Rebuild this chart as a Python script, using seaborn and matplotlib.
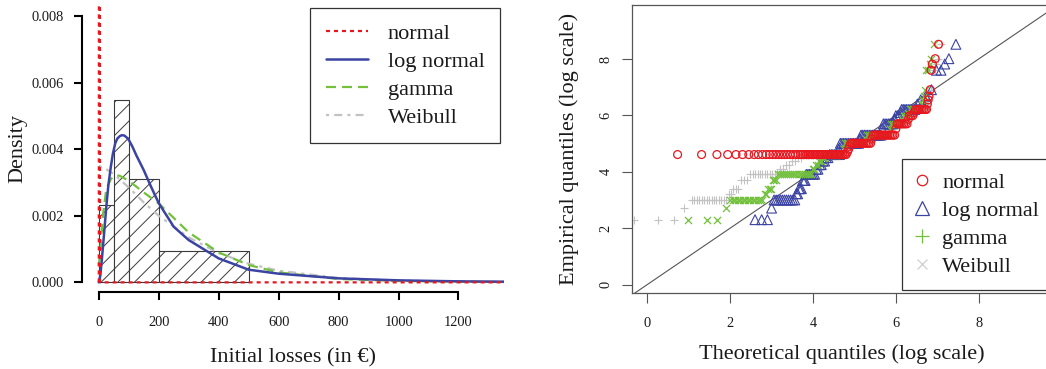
import numpy as np
import pandas as pd
import matplotlib
matplotlib.use("Agg")
import matplotlib.pyplot as plt
import seaborn as sns
from matplotlib.lines import Line2D

# ---------------- data: left panel (density) ----------------
hist_edges = [0, 50, 100, 200, 500]
hist_mid = [25, 75, 150, 350]
hist_density = [0.00232, 0.00548, 0.00310, 0.00095]

normal_x = [0, 2, 4, 1352]
normal_y = [0.0, 0.05, 0.0, 0.0]

lnorm_x = [0, 5, 10, 18, 25, 32, 40, 47, 55, 62, 70, 77, 85, 92, 100, 112, 125, 150, 175, 200,
           250, 300, 400, 500, 600, 800, 1000, 1200, 1352]
lnorm_y = [0.0, 0.00020, 0.00066, 0.00150, 0.00226, 0.00292, 0.00346, 0.00386, 0.00418, 0.00432,
           0.00439, 0.00442, 0.00441, 0.00436, 0.00428, 0.00408, 0.00382, 0.00337, 0.00286, 0.00238,
           0.00167, 0.00127, 0.00072, 0.00038, 0.00026, 0.00012, 0.00006, 0.00003, 0.00002]

gamma_x = [0, 5, 10, 15, 25, 40, 55, 70, 100, 150, 200, 300, 400, 500, 600, 800, 1000, 1200, 1352]
gamma_y = [0.00050, 0.00090, 0.00160, 0.00210, 0.00280, 0.00310, 0.00322, 0.00320, 0.00305, 0.00270,
           0.00237, 0.00150, 0.00090, 0.00052, 0.00030, 0.00010, 0.00004, 0.00002, 0.00001]

weib_x = [0, 25, 50, 100, 150, 200, 300, 400, 500, 600, 800, 1000, 1200, 1352]
weib_y = [0.00350, 0.00340, 0.00325, 0.00285, 0.00240, 0.00200, 0.00135, 0.00088, 0.00056, 0.00035,
          0.00013, 0.00005, 0.00002, 0.00001]

dens_labels = ["normal", "log normal", "gamma", "Weibull"]
x_ticks_left = [0, 200, 400, 600, 800, 1000, 1200]
y_ticks_left = [0.000, 0.002, 0.004, 0.006, 0.008]
y_tick_labels_left = ["0.000", "0.002", "0.004", "0.006", "0.008"]

# ---------------- data: right panel (Q-Q, log scale) ----------------
qq_normal_x = [0.73, 1.31, 1.68, 1.94, 2.14, 2.30, 2.45, 2.58, 2.68, 2.78, 2.87, 2.95, 3.03,
               3.10, 3.17, 3.24, 3.31, 3.38, 3.45, 3.52, 3.58, 3.64, 3.70, 3.75, 3.80,
               3.84, 3.88, 3.92, 3.96, 4.00, 4.04, 4.08, 4.12, 4.16, 4.20, 4.24, 4.28, 4.32,
               4.36, 4.40, 4.44, 4.48, 4.52, 4.56, 4.60, 4.64, 4.68, 4.72, 4.76, 4.80,
               4.83, 4.86, 4.88,
               4.91, 4.95, 4.99, 5.03, 5.07, 5.11, 5.15, 5.19, 5.23, 5.27, 5.31, 5.35, 5.39,
               5.42,
               5.45, 5.49, 5.53, 5.57, 5.61, 5.65, 5.69, 5.73, 5.77, 5.81, 5.85, 5.89, 5.93, 5.97,
               6.00,
               6.03, 6.07, 6.11, 6.15, 6.19, 6.23, 6.27,
               6.30, 6.33, 6.37, 6.41, 6.44,
               6.47, 6.51, 6.55, 6.59, 6.63, 6.67, 6.71, 6.74,
               6.76, 6.78, 6.80, 6.83,
               6.85, 6.88, 6.95, 7.03]
qq_normal_y = [4.61] * 50 + [4.70, 4.80, 4.90] + [5.01] * 13 + [5.16] + [5.30] * 14 + [5.52] \
    + [5.70] * 7 + [5.86, 5.99, 5.99, 5.99, 6.10] + [6.21] * 8 + [6.40, 6.55, 6.68, 6.91] \
    + [7.60, 7.82, 8.01, 8.52]

qq_lnorm_x = [2.60, 2.76, 2.90, 3.00,
              3.06, 3.11, 3.16, 3.21, 3.26, 3.31, 3.36, 3.41, 3.46, 3.51, 3.56,
              3.60, 3.63, 3.66, 3.69, 3.72, 3.75, 3.78, 3.81,
              3.84, 3.88, 3.92, 3.96, 4.00, 4.04,
              4.08, 4.12, 4.16, 4.20, 4.24, 4.28, 4.32, 4.36,
              4.40, 4.44, 4.48, 4.52, 4.56, 4.60, 4.64,
              4.62,
              4.66, 4.70, 4.74, 4.78, 4.82, 4.86, 4.90, 4.94, 4.98, 5.02, 5.06, 5.10,
              5.13,
              5.16, 5.20, 5.24, 5.28, 5.32, 5.36, 5.40, 5.44, 5.48, 5.52, 5.56, 5.60, 5.64,
              5.67,
              5.70, 5.74, 5.78, 5.82, 5.86, 5.90, 5.94,
              5.97, 6.00, 6.04, 6.08, 6.11,
              6.14, 6.18, 6.22, 6.26, 6.30, 6.34, 6.38, 6.42, 6.46,
              6.52, 6.60, 6.72, 6.86,
              6.98, 7.09, 7.18, 7.28, 7.45]
qq_lnorm_y = [2.30, 2.30, 2.30, 2.71] + [3.00] * 11 + [3.22, 3.22, 3.40, 3.40, 3.40, 3.69, 3.69, 3.69] \
    + [3.91] * 6 + [4.09, 4.09, 4.25, 4.25, 4.38, 4.38, 4.50, 4.50] + [4.61] * 7 + [4.80] \
    + [5.01] * 12 + [5.16] + [5.30] * 13 + [5.52] + [5.70] * 7 + [5.86, 5.99, 5.99, 5.99, 6.10] \
    + [6.21] * 9 + [6.40, 6.55, 6.68, 6.91] + [7.60, 7.60, 7.82, 8.01, 8.52]

qq_gamma_x = [0.97, 1.43, 1.69, 1.89,
              2.00, 2.06, 2.12, 2.18, 2.24, 2.30, 2.36, 2.42, 2.48, 2.54, 2.60, 2.66, 2.72, 2.78,
              2.83, 2.87, 2.91, 2.95, 2.99, 3.03, 3.07, 3.11,
              3.15, 3.20, 3.25, 3.30, 3.35, 3.40, 3.45, 3.50, 3.55, 3.60, 3.65, 3.70, 3.75, 3.80,
              3.85, 3.90, 3.95,
              3.99, 4.03, 4.07, 4.11, 4.15, 4.19, 4.23, 4.27,
              4.31, 4.35, 4.39, 4.43, 4.47, 4.51, 4.55, 4.59, 4.63, 4.67, 4.71,
              4.74,
              4.77, 4.81, 4.85, 4.89, 4.93, 4.97, 5.01, 5.05, 5.09, 5.13, 5.17, 5.21, 5.25,
              5.28,
              5.31, 5.35, 5.39, 5.43, 5.47, 5.51, 5.55, 5.59, 5.63, 5.67, 5.71, 5.75, 5.79, 5.83,
              5.86,
              5.89, 5.93, 5.97, 6.01, 6.05, 6.09, 6.13,
              6.16, 6.19, 6.23, 6.27, 6.30,
              6.33, 6.37, 6.41, 6.45, 6.49, 6.53, 6.57, 6.61,
              6.64, 6.66, 6.68, 6.71,
              6.74, 6.78, 6.82, 6.86, 6.91]
qq_gamma_y = [2.30, 2.30, 2.30, 2.71] + [3.00] * 14 + [3.22, 3.22, 3.40, 3.40, 3.40, 3.69, 3.69, 3.69] \
    + [3.91] * 17 + [4.09, 4.09, 4.25, 4.25, 4.38, 4.38, 4.50, 4.50] + [4.61] * 11 + [4.80] \
    + [5.01] * 13 + [5.16] + [5.30] * 14 + [5.52] + [5.70] * 7 + [5.86, 5.99, 5.99, 5.99, 6.10] \
    + [6.21] * 8 + [6.40, 6.55, 6.68, 6.91] + [7.60, 7.60, 7.82, 8.01, 8.52]

qq_weib_x = [-0.32, 0.26, 0.65, 0.89,
             1.07, 1.13, 1.19, 1.25, 1.31, 1.37, 1.43, 1.49, 1.55, 1.61, 1.67, 1.73, 1.79, 1.85, 1.91,
             1.97, 2.02, 2.08, 2.14, 2.20, 2.27, 2.34, 2.41,
             2.48, 2.54, 2.60, 2.66, 2.72, 2.78, 2.84, 2.90, 2.96, 3.02, 3.08, 3.14,
             3.21, 3.28, 3.35, 3.42, 3.49, 3.56, 3.63, 3.70,
             3.77, 3.83, 3.89, 3.95, 4.01, 4.07, 4.13, 4.19, 4.25, 4.31, 4.37, 4.43, 4.49, 4.55, 4.61,
             4.65,
             4.69, 4.74, 4.79, 4.84, 4.89, 4.94, 4.99, 5.04, 5.09, 5.14, 5.19,
             5.23,
             5.27, 5.32, 5.37, 5.42, 5.47, 5.52, 5.57, 5.62, 5.67, 5.72, 5.77, 5.82,
             5.86,
             5.90, 5.95, 6.00, 6.05, 6.10, 6.15,
             6.19, 6.23, 6.28, 6.33, 6.37,
             6.41, 6.46, 6.51, 6.56, 6.61, 6.66, 6.71,
             6.75, 6.78, 6.81, 6.85,
             6.90, 6.94, 6.98, 7.02, 7.08]
qq_weib_y = [2.30, 2.30, 2.30, 2.71] + [3.00] * 15 + [3.22, 3.22, 3.40, 3.40, 3.40, 3.69, 3.69, 3.69] \
    + [3.91] * 12 + [4.09, 4.09, 4.25, 4.25, 4.38, 4.38, 4.50, 4.50] + [4.61] * 15 + [4.80] \
    + [5.01] * 11 + [5.16] + [5.30] * 12 + [5.52] + [5.70] * 6 + [5.86, 5.99, 5.99, 5.99, 6.10] \
    + [6.21] * 7 + [6.40, 6.55, 6.68, 6.91] + [7.60, 7.60, 7.82, 8.01, 8.52]

qq_ticks = [0, 2, 4, 6, 8]
qq_labels = ["normal", "log normal", "gamma", "Weibull"]

# ---------------- styling ----------------
sns.set_theme(style="white")
plt.rcParams["font.family"] = ["Liberation Serif", "DejaVu Serif"]
plt.rcParams["hatch.linewidth"] = 0.7
plt.rcParams["hatch.color"] = "#3a3a3a"

RED = "#e8161f"
BLUE = "#3b43a3"
GREEN = "#72c03c"
GREY = "#c2c2c2"
TXT = "#1a1a1a"

W, H = 1046, 369
fig = plt.figure(figsize=(W / 100, H / 100), dpi=100)


def rect(l, t, r, b):
    return [l / W, 1 - b / H, (r - l) / W, (b - t) / H]


ax1 = fig.add_axes(rect(82, 5, 504, 292))
ax2 = fig.add_axes(rect(632, 5.4, 1052, 293))

# ---- left panel ----
sns.histplot(x=hist_mid, weights=hist_density, bins=hist_edges, stat="count", ax=ax1,
             color="white", edgecolor="#3a3a3a", linewidth=0.8, hatch="//", alpha=1, zorder=1)

ls_norm = (0, (1.8, 1.8))
ls_gamma = (0, (4.5, 2.7))
ls_weib = (0, (1.4, 2.3, 3.6, 2.3))

sns.lineplot(x=weib_x, y=weib_y, ax=ax1, color=GREY, lw=1.6, linestyle=ls_weib,
             sort=False, estimator=None, zorder=3)
sns.lineplot(x=gamma_x, y=gamma_y, ax=ax1, color=GREEN, lw=1.6, linestyle=ls_gamma,
             sort=False, estimator=None, zorder=4)
sns.lineplot(x=lnorm_x, y=lnorm_y, ax=ax1, color=BLUE, lw=1.8, linestyle="-",
             sort=False, estimator=None, zorder=5)
sns.lineplot(x=normal_x, y=normal_y, ax=ax1, color=RED, lw=1.6, linestyle=ls_norm,
             sort=False, estimator=None, zorder=6)

ax1.set_xlim(-56, 1352)
ax1.set_ylim(-0.00029, 0.00833)
ax1.set_xticks(x_ticks_left)
ax1.set_xticklabels([str(v) for v in x_ticks_left])
ax1.set_yticks(y_ticks_left)
ax1.set_yticklabels(y_tick_labels_left)
for s in ["top", "right"]:
    ax1.spines[s].set_visible(False)
ax1.spines["left"].set_bounds(0, 0.008)
ax1.spines["bottom"].set_bounds(0, 1200)
for s in ["left", "bottom"]:
    ax1.spines[s].set_linewidth(1.5)
    ax1.spines[s].set_color("black")
ax1.tick_params(axis="both", which="major", direction="out", length=6, width=1.5, color="black",
                labelsize=10.4, labelcolor=TXT, bottom=True, left=True)
ax1.tick_params(axis="x", pad=11)
ax1.tick_params(axis="y", pad=7)
ax1.set_xlabel("Initial losses (in €)", fontsize=16, color=TXT)
ax1.set_ylabel("Density", fontsize=16, color=TXT)
ax1.xaxis.set_label_coords(0.5, -0.195)
ax1.yaxis.set_label_coords(-0.13, 0.5)

h_left = [
    Line2D([], [], color=RED, lw=1.6, linestyle=ls_norm),
    Line2D([], [], color=BLUE, lw=1.8, linestyle="-"),
    Line2D([], [], color=GREEN, lw=1.6, linestyle=ls_gamma),
    Line2D([], [], color=GREY, lw=1.6, linestyle=ls_weib),
]
leg1 = ax1.legend(h_left, dens_labels, loc="upper left", bbox_to_anchor=(310 / W, 1 - 8 / H),
                  bbox_transform=fig.transFigure, borderaxespad=0, fontsize=16, frameon=True,
                  fancybox=False, framealpha=1, borderpad=0.7, handlelength=1.9,
                  handletextpad=0.9, labelspacing=0.33)
leg1.get_frame().set_edgecolor("#333333")
leg1.get_frame().set_linewidth(0.9)
for t in leg1.get_texts():
    t.set_color(TXT)

# ---- right panel ----
ax2.axline((0, 0), (1, 1), color="#555555", lw=0.8, zorder=1)
sns.scatterplot(x=qq_weib_x, y=qq_weib_y, ax=ax2, marker="+", s=36, color=GREY,
                linewidth=0.8, zorder=2)
sns.scatterplot(x=qq_lnorm_x, y=qq_lnorm_y, ax=ax2, marker="^", s=50, color=BLUE,
                facecolor="none", edgecolor=BLUE, linewidth=0.8, zorder=3)
sns.scatterplot(x=qq_gamma_x, y=qq_gamma_y, ax=ax2, marker="x", s=26, color=GREEN,
                linewidth=0.9, zorder=4)
sns.scatterplot(x=qq_normal_x, y=qq_normal_y, ax=ax2, marker="o", s=32, color=RED,
                facecolor="none", edgecolor=RED, linewidth=0.9, zorder=5)

ax2.set_xlim(-0.37, 9.77)
ax2.set_ylim(-0.30, 9.90)
ax2.set_xticks(qq_ticks)
ax2.set_xticklabels([str(v) for v in qq_ticks])
ax2.set_yticks(qq_ticks)
ax2.set_yticklabels([str(v) for v in qq_ticks])
for s in ["top", "right", "left", "bottom"]:
    ax2.spines[s].set_visible(True)
    ax2.spines[s].set_linewidth(0.9)
    ax2.spines[s].set_color("#555555")
ax2.tick_params(axis="both", which="major", direction="out", length=7, width=0.8, color="#555555",
                labelsize=10.4, labelcolor=TXT, bottom=True, left=True)
ax2.tick_params(axis="x", pad=10)
ax2.tick_params(axis="y", pad=7)
for lbl in ax2.get_yticklabels():
    lbl.set_rotation(90)
    lbl.set_va("center")
ax2.set_xlabel("Theoretical quantiles (log scale)", fontsize=16, color=TXT)
ax2.set_ylabel("Empirical quantiles (log scale)", fontsize=16, color=TXT)
ax2.xaxis.set_label_coords(0.5, -0.177)
ax2.yaxis.set_label_coords(-0.126, 0.5)

h_right = [
    Line2D([], [], ls="none", marker="o", ms=7.5, mfc="none", mec=RED, mew=0.9),
    Line2D([], [], ls="none", marker="^", ms=10, mfc="none", mec=BLUE, mew=0.9),
    Line2D([], [], ls="none", marker="+", ms=10, color=GREEN, mew=0.9),
    Line2D([], [], ls="none", marker="x", ms=7.5, color="#cfcfcf", mew=0.9),
]
leg2 = ax2.legend(h_right, qq_labels, loc="upper left", bbox_to_anchor=(902 / W, 1 - 159 / H),
                  bbox_transform=fig.transFigure, borderaxespad=0, fontsize=16, frameon=True,
                  fancybox=False, framealpha=1, borderpad=0.6, handlelength=0.6,
                  handletextpad=0.6, labelspacing=0.33)
leg2.get_frame().set_edgecolor("#333333")
leg2.get_frame().set_linewidth(0.9)
for t in leg2.get_texts():
    t.set_color(TXT)

fig.savefig("out.png", dpi=100)
